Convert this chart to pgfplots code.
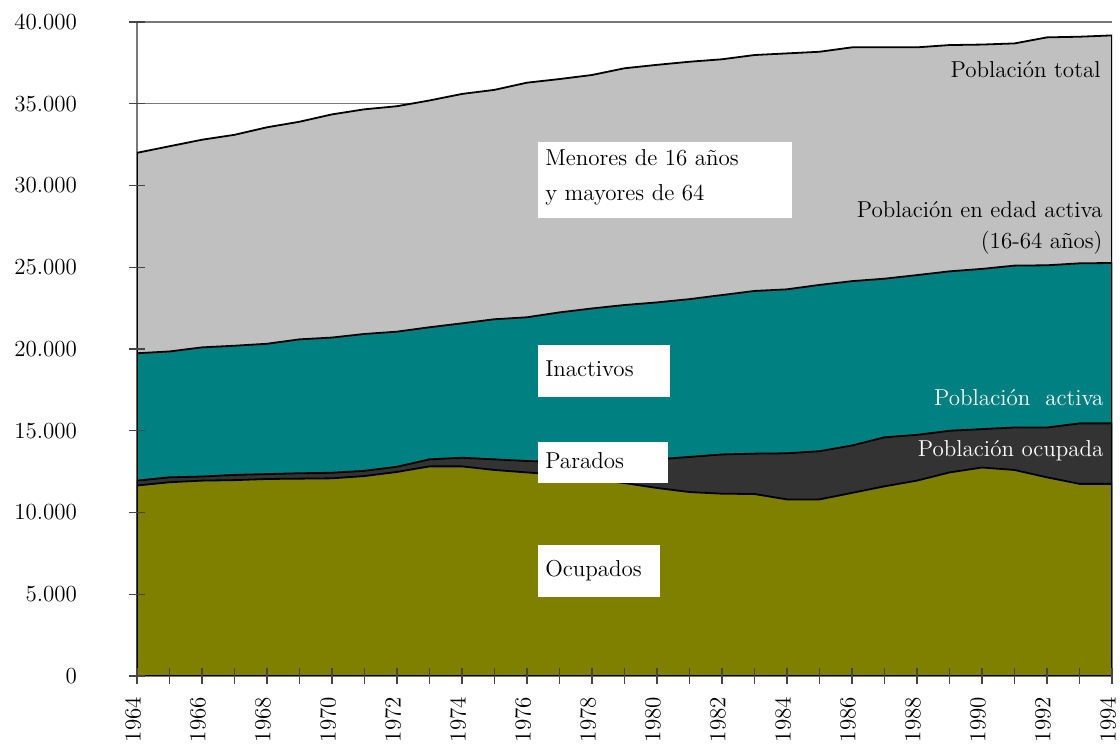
\documentclass[border=0pt]{standalone}
\usepackage{pgfplots}
\usepackage{pgfplotstable}
\pgfplotsset{compat=1.18}
\definecolor{olivo}{RGB}{128,128,0}
\definecolor{oscuro}{RGB}{51,51,51}
\definecolor{verdeazul}{RGB}{0,128,128}
\definecolor{grisclaro}{RGB}{192,192,192}
\definecolor{rejilla}{RGB}{120,120,120}
\definecolor{marca}{RGB}{70,70,70}
\pgfplotstableread{
year ocup activa pea total
1964 11650 11950 19740 32000
1965 11850 12150 19850 32400
1966 11950 12200 20100 32800
1967 11980 12300 20200 33100
1968 12050 12350 20320 33560
1969 12070 12400 20590 33900
1970 12090 12430 20700 34350
1971 12230 12550 20920 34660
1972 12480 12800 21060 34850
1973 12820 13250 21330 35200
1974 12820 13350 21570 35600
1975 12600 13250 21820 35850
1976 12450 13150 21940 36290
1977 12300 13100 22240 36510
1978 12050 13100 22480 36760
1979 11800 13150 22690 37170
1980 11500 13250 22850 37380
1981 11250 13400 23050 37570
1982 11150 13550 23300 37720
1983 11130 13600 23550 37980
1984 10800 13620 23650 38080
1985 10800 13750 23920 38180
1986 11200 14100 24150 38450
1987 11600 14600 24300 38450
1988 11950 14750 24520 38450
1989 12450 15000 24750 38590
1990 12750 15100 24900 38620
1991 12600 15200 25100 38690
1992 12150 15200 25120 39060
1993 11750 15450 25240 39100
1994 11750 15450 25260 39180
}\datos
\pgfplotsset{
  comun/.style={
    scale only axis, width=487.5pt, height=327pt,
    xmin=1964, xmax=1994, ymin=0, ymax=40000,
    axis x line=bottom, axis y line=left,
    xtick={1964,1966,...,1994}, minor xtick={1965,1967,...,1993},
    ytick={0,5000,...,40000},
    scaled y ticks=false,
  },
}
\begin{document}
\begin{tikzpicture}
\useasboundingbox (-68.5pt,-34pt) rectangle (491.5pt,338pt);
\begin{axis}[
  comun,
  axis line style={-, rejilla, line width=0.8pt},
  ymajorgrids, major grid style={rejilla, line width=0.6pt},
  major tick length=0pt, minor tick length=0pt,
  xticklabels={}, yticklabels={},
]
\addplot[draw=black, line width=0.9pt, fill=grisclaro] table[x=year,y=total]{\datos} \closedcycle;
\addplot[draw=black, line width=0.9pt, fill=verdeazul] table[x=year,y=pea]{\datos} \closedcycle;
\addplot[draw=black, line width=0.9pt, fill=oscuro] table[x=year,y=activa]{\datos} \closedcycle;
\addplot[draw=black, line width=0.9pt, fill=olivo] table[x=year,y=ocup]{\datos} \closedcycle;

\fill[white] (axis cs:1976.34,32660) rectangle (axis cs:1984.15,28010);
\fill[white] (axis cs:1976.34,20244) rectangle (axis cs:1980.40,17064);
\fill[white] (axis cs:1976.34,14311) rectangle (axis cs:1980.34,11804);
\fill[white] (axis cs:1976.34,8012) rectangle (axis cs:1980.09,4832);

\node[anchor=west, align=left, inner sep=0pt, font=\fontsize{11.5}{17.5}\selectfont] at (axis cs:1976.55,30490) {Menores de 16 años\\y mayores de 64};
\node[anchor=west, inner sep=0pt, font=\fontsize{11.5}{14}\selectfont] at (axis cs:1976.55,18776) {Inactivos};
\node[anchor=west, inner sep=0pt, font=\fontsize{11.5}{14}\selectfont] at (axis cs:1976.55,13150) {Parados};
\node[anchor=west, inner sep=0pt, font=\fontsize{11.5}{14}\selectfont] at (axis cs:1976.55,6422) {Ocupados};

\node[anchor=east, inner sep=0pt, font=\fontsize{11.5}{14}\selectfont] at (axis cs:1993.66,37060) {Población total};
\node[anchor=east, align=right, inner sep=0pt, font=\fontsize{11.5}{15.5}\selectfont] at (axis cs:1993.72,27430) {Población en edad activa\\(16-64 años)};
\node[anchor=east, inner sep=0pt, text=white, font=\fontsize{11.5}{14}\selectfont] at (axis cs:1993.75,17000) {Población\ \ activa};
\node[anchor=east, inner sep=0pt, text=white, font=\fontsize{11.5}{14}\selectfont] at (axis cs:1993.75,13760) {Población ocupada};
\end{axis}
\begin{axis}[
  comun,
  axis line style={draw=none},
  tick align=center, major tick length=8pt, minor tick length=8pt,
  tick style={marca, line width=0.6pt},
  minor tick style={marca, line width=0.6pt},
  /pgf/number format/assume math mode=true,
  tick label style={font=\fontsize{11.5}{14}\selectfont},
  xticklabel shift=3pt,
  yticklabel shift=22.5pt,
  x tick label style={xshift=-2pt, rotate=90, anchor=east, /pgf/number format/1000 sep={}},
  y tick label style={/pgf/number format/1000 sep={.}},
]
\end{axis}
\end{tikzpicture}
\end{document}
